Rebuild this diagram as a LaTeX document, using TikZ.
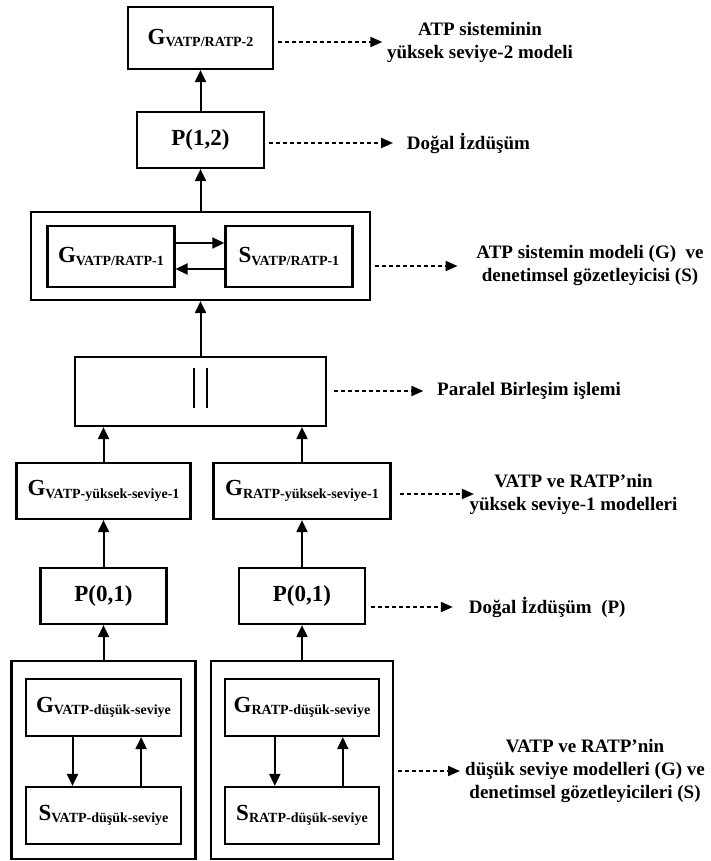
\documentclass[tikz,border=0pt]{standalone}
\usepackage{fontspec}
\setmainfont{Liberation Serif}
\usepackage{tikz}
\usetikzlibrary{calc,positioning,arrows.meta}

% big letter with a lowered small subscript (G_{...}, S_{...})
\newcommand\gsym[2]{#1\raisebox{-2.5pt}{\fontsize{14}{14}\selectfont#2}}

\begin{document}
\begin{tikzpicture}[x=1pt,y=-1pt,
  box/.style={draw, line width=2.2pt, inner sep=0pt,
    font=\bfseries\fontsize{23}{27}\selectfont},
  note/.style={font=\bfseries\fontsize{19}{23}\selectfont, align=center, inner sep=0pt},
  up/.style={line width=2pt, -{Triangle[length=12pt,width=11pt]}},
  dots/.style={line width=2pt, dash pattern=on 4pt off 3pt,
    -{Triangle[length=12pt,width=10pt]}, shorten <=4pt}]
% Hierarchy of models, read bottom to top: low-level models and
% supervisors of VATP and RATP, projected to level 1, composed in
% parallel, then supervised and projected once more to level 2.
% Coordinates are in pixels of the page, y grows downwards.
\useasboundingbox (0,0) rectangle (710,861);
\def\colM{200.5}  % main column
\def\colL{103.5}  % VATP column
\def\colR{302}    % RATP column
% Level 2
\node[box, minimum width=145pt, minimum height=62pt] (g2) at (\colM,38) {\gsym{G}{VATP/RATP-2}};
\node[box, minimum width=127pt, minimum height=56pt] (p12) at (\colM,140) {P(1,2)};
% Supervised level-1 system
\node[box, minimum width=339pt, minimum height=88pt] (atp) at (\colM,256) {};
\node[box, minimum width=127pt, minimum height=61pt] (g1) at (110.9,256.5) {\gsym{G}{VATP/RATP-1}};
\node[box, minimum width=127pt, minimum height=61pt] (s1) at (288.9,256.5) {\gsym{S}{VATP/RATP-1}};
% Parallel composition
\node[box, minimum width=251pt, minimum height=69pt] (par) at (\colM,391.5) {};
\draw[line width=2.2pt] ([xshift=-6.8pt,yshift=23.5pt]par.center) -- ++(0,40);
\draw[line width=2.2pt] ([xshift=6.8pt,yshift=23.5pt]par.center) -- ++(0,40);
% Level 1
\node[box, minimum width=174pt, minimum height=56pt] (gv) at (\colL,491) {\gsym{G}{VATP-yüksek-seviye-1}};
\node[box, minimum width=177pt, minimum height=56pt] (gr) at (\colR,491) {\gsym{G}{RATP-yüksek-seviye-1}};
\node[box, minimum width=126pt, minimum height=56pt] (pv) at (\colL,596) {P(0,1)};
\node[box, minimum width=126pt, minimum height=56pt] (pr) at (\colR,596) {P(0,1)};
% Low level
\node[box, minimum width=184pt, minimum height=198pt] (lowv) at (\colL,760) {};
\node[box, minimum width=182pt, minimum height=198pt] (lowr) at (\colR,760) {};
\node[box, minimum width=155pt, minimum height=57pt] (gvl) at (\colL,707.5) {\gsym{G}{VATP-düşük-seviye}};
\node[box, minimum width=155pt, minimum height=57pt] (svl) at (\colL,815.5) {\gsym{S}{VATP-düşük-seviye}};
\node[box, minimum width=154pt, minimum height=57pt] (grl) at (\colR,707.5) {\gsym{G}{RATP-düşük-seviye}};
\node[box, minimum width=154pt, minimum height=57pt] (srl) at (\colR,815.5) {\gsym{S}{RATP-düşük-seviye}};
% Flow upwards
\draw[up] (p12.north) -- (g2.south);
\draw[up] (atp.north) -- (p12.south);
\draw[up] (par.north) -- (atp.south);
\draw[up] (gv.north) -- (gv.north |- par.south);
\draw[up] (gr.north) -- (gr.north |- par.south);
\draw[up] (pv.north) -- (gv.south);
\draw[up] (pr.north) -- (gr.south);
\draw[up] (lowv.north) -- (pv.south);
\draw[up] (lowr.north) -- (pr.south);
% Model <-> supervisor loops
\draw[up] ([yshift=13.5pt]g1.east) -- ([yshift=13.5pt]s1.west);
\draw[up] ([yshift=-12.5pt]s1.west) -- ([yshift=-12.5pt]g1.east);
\draw[up] ([xshift=-31pt]gvl.south) -- ([xshift=-31pt]svl.north);
\draw[up] ([xshift=37.6pt]svl.north) -- ([xshift=37.6pt]gvl.south);
\draw[up] ([xshift=-27.2pt]grl.south) -- ([xshift=-27.2pt]srl.north);
\draw[up] ([xshift=40.8pt]srl.north) -- ([xshift=40.8pt]grl.south);
% Notes on the right
\node[note] (tg2) at (480,42) {ATP sisteminin\\yüksek seviye-2 modeli};
\node[note, anchor=west] (tp12) at (406.7,143) {Doğal İzdüşüm};
\node[note] (tatp) at (590,266) {ATP sistemin modeli (G)\ \ ve\\denetimsel gözetleyicisi (S)};
\node[note, anchor=west] (tpar) at (437,391) {Paralel Birleşim işlemi};
\node[note] (tgr) at (573.5,494) {VATP ve RATP’nin\\yüksek seviye-1 modelleri};
\node[note, anchor=west] (tpr) at (468.6,607) {Doğal İzdüşüm\ \ (P)};
\node[note] (tlow) at (585,771) {VATP ve RATP’nin\\düşük seviye modelleri (G) ve\\denetimsel gözetleyicileri (S)};
\draw[dots, shorten >=4.6pt] (g2.east |- tg2.west) -- (tg2.west);
\draw[dots, shorten >=13.7pt] (p12.east |- tp12.west) -- (tp12.west);
\draw[dots, shorten >=18.7pt] (atp.east |- tatp.west) -- (tatp.west);
\draw[dots, shorten >=13.6pt, shorten <=6.8pt] (par.east |- tpar.west) -- (tpar.west);
\draw[dots, shorten >=-4.6pt, shorten <=8pt] (gr.east |- tgr.west) -- (tgr.west);
\draw[dots, shorten >=15.8pt, shorten <=5pt] (pr.east |- tpr.west) -- (tpr.west);
\draw[dots, shorten >=5pt] (lowr.east |- tlow.west) -- (tlow.west);
\end{tikzpicture}
\end{document}
